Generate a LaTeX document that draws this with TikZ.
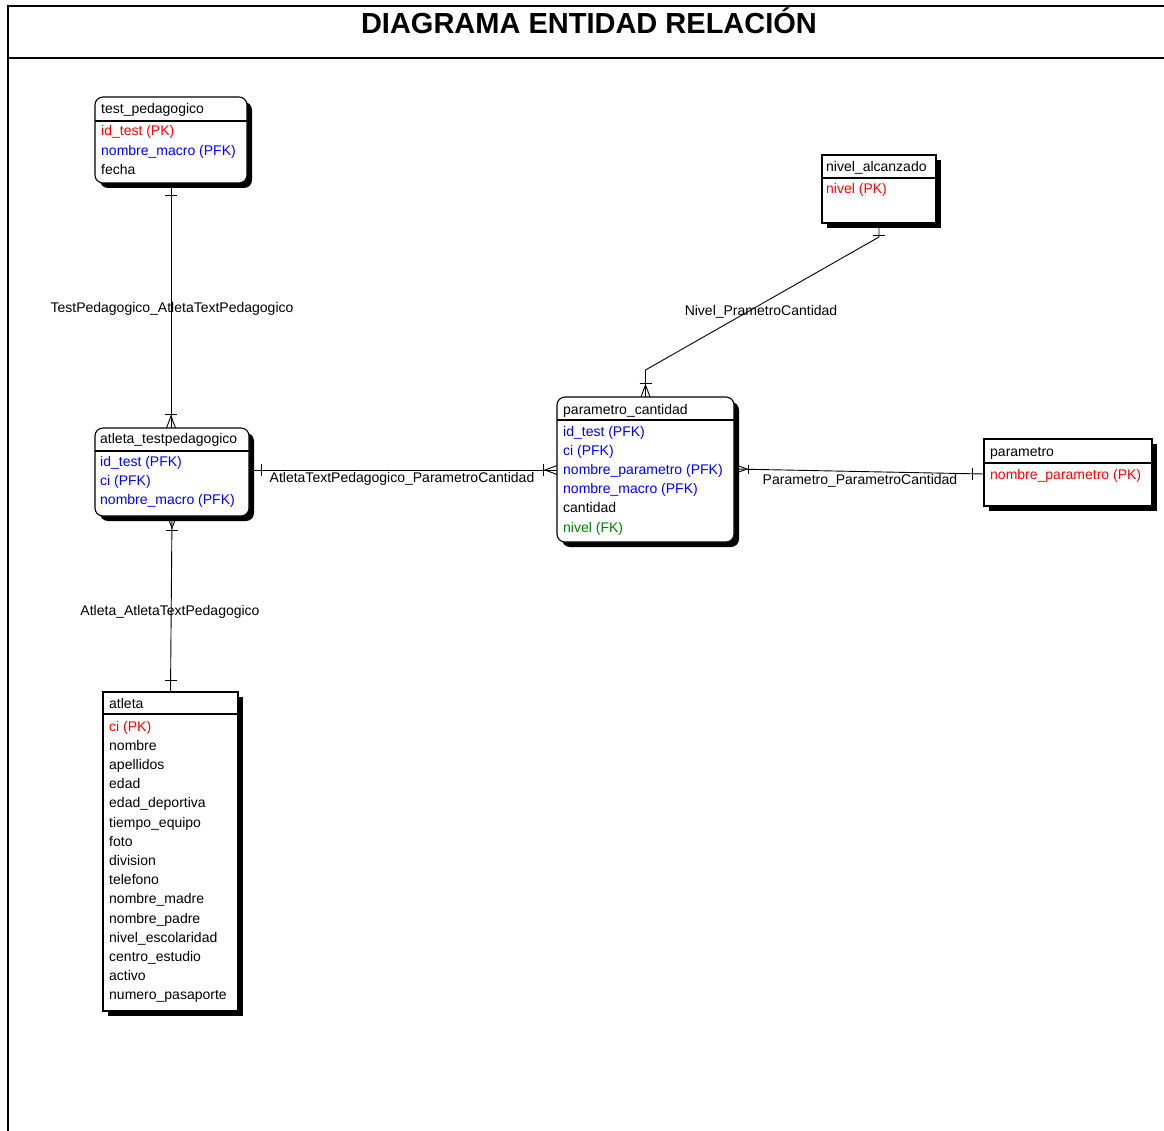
\documentclass[tikz,border=0pt]{standalone}
\usepackage{fontspec}
\setmainfont{Liberation Sans}
\usetikzlibrary{calc}
\definecolor{pkred}{RGB}{255,0,0}
\definecolor{fkblue}{RGB}{0,0,255}
\definecolor{fkgreen}{RGB}{0,128,0}

% entity box with a solid drop shadow: #1 extra style, #2 name, #3..#6 corners
\newcommand\entbox[6][]{%
  \fill[black,#1] (#3+5,#4+5) rectangle (#5+5,#6+5);
  \node[ent,#1,minimum width=#5-#3,minimum height=#6-#4] (#2) at (#3,#4) {};
}
% attribute rows: #1 left x, #2 first baseline, #3 list colour/text
\newcommand\fieldrows[3]{%
  \foreach \fc/\ft [count=\i from 0] in {#3}
    \node[fld,text=\fc] at (#1,#2+\i*19.2) {\ft};
}

\begin{document}
\begin{tikzpicture}[x=1pt,y=-1pt,
  font=\fontsize{14}{17}\selectfont,
  ent/.style={draw,fill=white,line width=1.1pt,inner sep=0,outer sep=0,anchor=north west},
  rnd/.style={rounded corners=8pt},
  fld/.style={anchor=base west,inner sep=0},
  rel/.style={line width=0.9pt},
  lbl/.style={inner sep=0},
  frame/.style={line width=2pt},
  many/.pic={\draw[rel] (0,-4.5) -- (12,0) -- (0,4.5); \draw[rel] (14,-6) -- (14,6);},
  one/.pic={\draw[rel] (12,-6) -- (12,6);}
]
\useasboundingbox (0,0) rectangle (1164,1131);

% page frame and title band
\draw[frame] (8,1131) -- (8,6) -- (1164,6);
\draw[frame] (8,58) -- (1164,58);
\node[font=\bfseries\fontsize{29}{30}\selectfont,anchor=base] (title) at (589,34) {DIAGRAMA ENTIDAD RELACIÓN};

% entity boxes
\entbox[rnd]{tp}{95}{97}{247}{183}
\entbox[rnd]{atp}{95}{428}{249}{516}
\entbox[rnd]{pc}{557}{397}{734}{542}
\entbox{niv}{822}{155}{936}{223}
\entbox{par}{984}{439}{1152}{506}
\entbox{atl}{103}{692}{238}{1011}

% header separators
\draw[line width=1.1pt] (tp.west |- 0,121) -- (tp.east |- 0,121);
\draw[line width=1.1pt] (atp.west |- 0,451) -- (atp.east |- 0,451);
\draw[line width=1.1pt] (pc.west |- 0,420) -- (pc.east |- 0,420);
\draw[line width=1.1pt] (niv.west |- 0,178) -- (niv.east |- 0,178);
\draw[line width=1.1pt] (par.west |- 0,463) -- (par.east |- 0,463);
\draw[line width=1.1pt] (atl.west |- 0,714) -- (atl.east |- 0,714);

% entity names
\node[fld] at (101,114) {test\_pedagogico};
\node[fld] at (100,443) {atleta\_testpedagogico};
\node[fld] at (563,414) {parametro\_cantidad};
\node[fld] at (826,172) {nivel\_alcanzado};
\node[fld] at (990,456) {parametro};
\node[fld] at (109,708) {atleta};

% attributes
\fieldrows{101}{136}{pkred/id\_test (PK), fkblue/nombre\_macro (PFK), black/fecha}
\fieldrows{100}{466}{fkblue/id\_test (PFK), fkblue/ci (PFK), fkblue/nombre\_macro (PFK)}
\fieldrows{563}{436}{fkblue/id\_test (PFK), fkblue/ci (PFK), fkblue/nombre\_parametro (PFK),
  fkblue/nombre\_macro (PFK), black/cantidad, fkgreen/nivel (FK)}
\fieldrows{826}{194}{pkred/nivel (PK)}
\fieldrows{990}{479}{pkred/nombre\_parametro (PK)}
\fieldrows{109}{731}{pkred/ci (PK), black/nombre, black/apellidos, black/edad,
  black/edad\_deportiva, black/tiempo\_equipo, black/foto, black/division,
  black/telefono, black/nombre\_madre, black/nombre\_padre,
  black/nivel\_escolaridad, black/centro\_estudio, black/activo,
  black/numero\_pasaporte}

% relationships
\coordinate (ya) at (0,470);
\coordinate (yb) at (0,469);
\coordinate (yc) at (0,474);
\coordinate (bend) at (645,370);
\coordinate (pcr) at (738,469);

\draw[rel] (tp.south) -- (tp.south |- atp.north);
\pic[rotate=-90] at (tp.south) {one};
\pic[rotate=90] at (tp.south |- atp.north) {many};
\node[lbl] (l1) at (172,309) {TestPedagogico\_AtletaTextPedagogico};

\draw[rel] (atp.south) -- (atl.north);
\pic[rotate=-90] at (atp.south) {many};
\pic[rotate=90] at (atl.north) {one};
\node[lbl] (l2) at (170,612) {Atleta\_AtletaTextPedagogico};

\draw[rel] (atp.east |- ya) -- (pc.west |- ya);
\pic at (atp.east |- ya) {one};
\pic[rotate=180] at (pc.west |- ya) {many};
\node[lbl] (l3) at (402,479) {AtletaTextPedagogico\_ParametroCantidad};

\draw[rel] (pc.east |- yb) -- (par.west |- yc);
\pic[scale=0.75] at (pcr) {many};
\pic[rotate=180] at (par.west |- yc) {one};
\node[lbl] (l4) at (860,481) {Parametro\_ParametroCantidad};

\draw[rel] (niv.south) -- ++(0,14) -- (pc.north |- bend) -- (pc.north);
\pic[rotate=-90] at (niv.south) {one};
\pic[rotate=90] at (pc.north) {many};
\node[lbl] (l5) at (761,312) {Nivel\_PrametroCantidad};

\end{tikzpicture}
\end{document}
